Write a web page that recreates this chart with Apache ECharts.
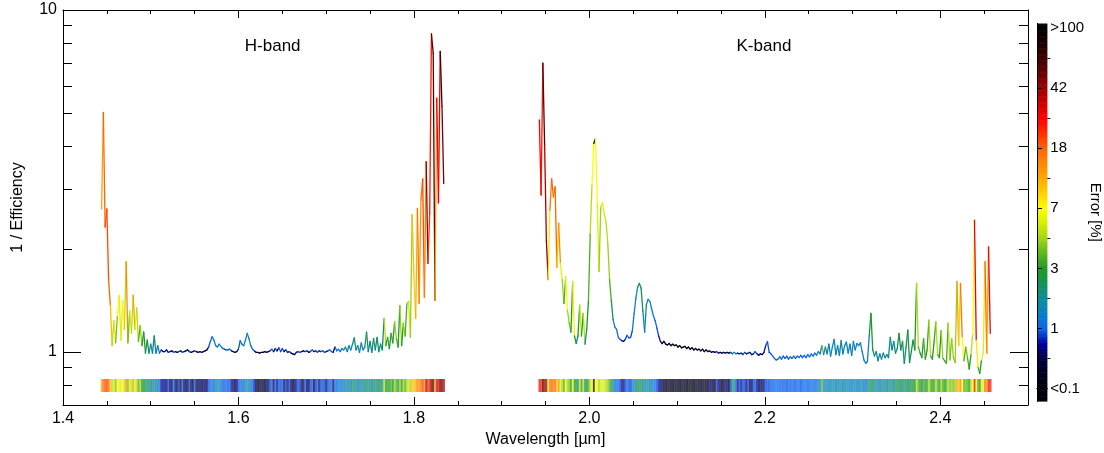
<!DOCTYPE html>
<html><head><meta charset="utf-8">
<script src="https://cdn.jsdelivr.net/npm/echarts@6/dist/echarts.min.js"></script>
<style>html,body{margin:0;padding:0;background:#fff}#c{width:1104px;height:453px}</style>
</head><body><div id="c"></div>
<script>
// ---- wavelength sampling (µm) ----
const H_START = 1.444, K_START = 1.943, STEP = 0.002;

// ---- H band: 1/efficiency and error [%] ----
const hEff = [
2.62,5.02,2.32,2.62,1.62,1.37,1.044,1.235,1.064,1.276,
1.466,1.084,1.416,1.164,1.838,1.064,1.316,1.134,1.466,1.164,
1.346,1.074,1.195,1.044,1.144,0.993,1.084,0.993,1.054,0.993,
1.114,0.993,1.044,0.993,1.014,1.003,1.003,1.014,0.998,1.003,
1.008,0.998,1.003,0.998,1.003,1.008,0.998,1.003,1.008,1.014,
1.003,0.998,1.003,1.008,1.003,0.998,1.003,0.998,1.003,1.008,
1.014,1.034,1.074,1.108,1.084,1.044,1.034,1.054,1.039,1.024,
1.019,1.014,1.014,1.019,1.008,1.003,0.998,1.003,1.019,1.079,
1.054,1.044,1.084,1.134,1.094,1.044,1.019,1.008,0.998,0.998,
0.993,0.998,0.998,1.003,0.998,1.003,1.008,1.019,1.003,1.024,
1.008,1.029,1.003,1.024,1.003,1.014,0.998,1.003,0.993,0.988,
0.983,0.998,1.003,0.998,1.003,1.008,1.003,1.008,0.998,1.003,
1.014,1.003,1.008,0.998,1.008,1.003,1.008,0.998,1.003,1.008,
1.014,1.003,0.998,1.034,1.008,1.019,1.003,1.024,1.014,1.034,
1.003,1.044,1.014,1.054,1.099,1.014,1.044,0.998,1.064,1.014,
1.034,1.144,1.003,1.074,0.998,1.094,1.014,1.104,1.003,1.054,
1.014,1.255,1.044,1.104,1.024,1.134,1.064,1.225,1.094,1.034,
1.366,1.044,1.215,1.114,1.386,1.406,1.104,2.52,1.658,1.255,
2.63,1.386,2.78,3.21,1.446,3.60,1.818,2.54,8.51,7.48,
1.416,5.52,2.73,7.57,5.22,3.11];
const hErr = [
12,18,20,20,18,10,5,6,4,7,
8,6,7,5,14,4,6,5,12,6,
5,3.5,4.5,3,3,2,3,1.5,2,1.2,
2.5,1.2,1.5,1.0,0.5,0.5,0.6,0.4,0.8,0.3,
0.5,1.0,0.3,0.4,0.8,0.3,0.9,0.3,0.5,0.3,
0.8,0.3,0.4,0.9,0.3,0.3,0.6,0.3,0.4,0.3,
0.5,0.9,1.0,1.1,1.2,1.3,1.4,1.6,1.2,1.0,
0.9,1.0,0.9,1.0,0.5,0.4,0.3,0.5,0.9,1.0,
1.1,1.2,1.4,1.7,1.5,1.2,1.0,0.6,0.3,0.3,
0.2,0.3,0.2,0.3,0.4,0.3,0.8,1.0,0.3,0.9,
0.4,1.0,0.8,0.9,0.3,0.8,0.5,0.8,0.3,0.3,
0.4,0.6,0.9,0.8,0.4,0.3,0.9,0.5,0.3,0.8,
0.9,0.3,0.8,0.9,0.4,0.9,0.9,0.8,0.3,0.9,
1.0,1.0,0.4,1.2,1.0,1.3,1.0,1.3,1.5,1.8,
1.2,1.8,1.4,1.9,2.2,1.5,1.8,1.2,1.9,1.5,
1.8,2.7,1.5,2.2,1.4,2.4,1.7,2.5,1.8,2.2,
2.0,5,3,3.2,2.6,3.5,3,4.5,3.5,2.8,
4.5,3,4.5,3.5,5,5.5,4.5,10,9,11,
16,13,17,20,15,45,22,25,55,60,
12,30,30,65,50,35];

// ---- K band: 1/efficiency and error [%] ----
const kEff = [
4.77,2.88,6.99,4.02,2.12,1.628,2.60,3.21,2.84,3.04,
1.768,2.38,1.818,1.628,1.386,1.658,1.326,1.215,1.144,1.608,
1.114,1.06,1.114,1.372,1.114,1.296,1.054,1.164,1.416,2.22,
3.08,4.07,4.21,2.72,1.718,2.66,2.73,2.54,2.40,2.08,
1.628,1.416,1.245,1.184,1.164,1.104,1.089,1.079,1.074,1.089,
1.119,1.099,1.104,1.154,1.296,1.436,1.547,1.587,1.537,1.316,
1.144,1.376,1.426,1.406,1.336,1.276,1.235,1.174,1.114,1.074,
1.059,1.074,1.054,1.049,1.059,1.044,1.054,1.044,1.049,1.034,
1.044,1.029,1.034,1.039,1.024,1.034,1.019,1.029,1.014,1.024,
1.014,1.019,1.008,1.019,1.003,1.014,1.003,1.008,0.998,1.003,
0.998,1.003,0.993,0.998,0.993,0.998,0.993,0.998,0.993,0.998,
0.988,0.998,0.988,0.993,0.988,0.993,0.983,0.998,0.988,0.993,
0.998,0.983,0.988,1.003,0.988,0.978,0.988,0.983,0.998,1.044,
1.072,0.998,0.988,0.973,0.958,0.948,0.953,0.968,0.953,0.973,
0.958,0.973,0.953,0.968,0.958,0.973,0.958,0.973,0.963,0.978,
0.963,0.978,0.963,0.983,0.968,0.988,0.973,0.993,0.978,1.003,
0.988,1.044,0.983,1.034,0.988,1.054,0.973,1.034,1.089,0.983,
1.044,0.978,1.079,0.988,1.044,1.069,0.993,1.054,0.978,1.074,
1.014,1.059,1.044,1.064,1.003,0.948,0.927,0.938,1.114,1.296,
1.014,0.973,1.003,0.943,0.988,0.953,0.993,0.963,0.983,0.963,
1.104,1.014,1.074,0.993,1.024,1.134,1.014,1.074,0.927,1.034,
1.159,0.932,1.003,1.084,1.014,1.588,1.034,0.993,0.963,1.094,
0.953,1.014,1.24,0.973,0.953,1.074,1.225,0.983,0.963,1.154,
0.958,0.943,0.926,1.215,0.948,1.094,0.963,0.932,1.608,1.044,
1.588,1.104,0.943,1.034,0.963,0.892,0.983,1.124,2.43,1.084,
0.902,0.866,0.948,0.993,1.838,0.993,2.03,1.134];
const kErr = [
28,25,60,40,45,8,16,18,16,18,
9,14,6,4.5,3.5,7,4.5,4,3,7.5,
3,1.8,3,5.5,3,5,1.8,2.8,3.5,5,
7,120,7,6,4.5,6,6,5.5,5,4.5,
3.5,2.5,1.6,1.2,1.1,1.0,0.8,0.6,0.5,0.8,
1.0,0.9,0.8,1.2,1.5,1.7,2.3,2.8,2.2,1.6,
1.5,1.6,1.7,1.5,1.3,1.2,1.0,0.9,0.6,0.4,
0.3,0.3,0.2,0.2,0.2,0.2,0.15,0.2,0.15,0.15,
0.2,0.15,0.12,0.2,0.15,0.12,0.2,0.15,0.12,0.15,
0.2,0.12,0.3,0.15,0.2,0.12,0.3,0.5,0.3,0.15,
0.3,0.8,0.5,0.3,0.2,0.3,0.5,0.3,0.2,0.8,
1.5,2.5,1.0,0.5,0.8,0.5,0.9,0.8,0.4,0.8,
0.5,0.3,0.8,0.9,0.6,0.3,0.4,0.3,0.6,0.9,
0.9,0.8,1.0,1.0,1.0,1.0,1.1,1.0,1.0,0.9,
1.0,0.9,1.0,0.9,1.0,1.0,0.9,1.0,1.0,0.9,
1.0,1.0,1.0,1.0,1.0,1.1,1.0,1.2,1.1,1.3,
1.2,4,1.5,1.4,1.3,1.5,1.4,1.5,1.6,1.4,
1.5,1.4,1.6,1.4,1.5,1.6,1.3,1.5,1.3,1.5,
1.4,1.5,1.4,1.5,1.3,1.2,1.3,1.3,2.5,2.8,
1.8,1.7,1.6,1.7,1.5,1.6,1.7,1.6,1.7,1.8,
1.8,1.8,1.9,2.0,2.2,2.8,2.0,2.2,1.7,2.5,
2.8,2.0,2.3,2.6,3,5,3.5,3,2.8,3.5,
3,3.2,5,3.5,3,3.2,5,3.5,3,4.5,
3.5,3,3.5,5,4,4.5,4,4.5,12,9,
16,7,3.5,4,3.5,3,5,7,30,8,
3.5,3,6,6,18,12,28,25];

// ---- colour bar & axes ----
const errTicks = [0.1, 1, 3, 7, 18, 42, 100];
const errTickLabels = ['<0.1', '1', '3', '7', '18', '42', '>100'];
const xMajorTicks = [1.4, 1.6, 1.8, 2.0, 2.2, 2.4];
const xMinorTicks = [1.45,1.5,1.55,1.65,1.7,1.75,1.85,1.9,1.95,2.05,2.1,2.15,2.25,2.3,2.35,2.45];
const yMajorTicks = [1, 10];
const yMinorTicks = [0.8, 0.9, 2, 3, 4, 5, 6, 7, 8, 9];
const bandNames = ['H-band', 'K-band'];
const bandLabelX = [1.639, 2.199];
const bandLabelY = 7.81;
const palette = ['#00000e','#000020','#000040','#0000a0','#0a66ee','#0a80c8','#0f8c98','#14925a',
  '#1d9a22','#5ab41e','#a0d414','#d4ec08','#fcff00','#ffd200','#ffa800','#ff8800','#ff6400',
  '#ff3000','#ff0000','#d00000','#a00000','#6a0000','#400000','#1c0000','#000000'];
const STRIP_LO = 0.764, STRIP_HI = 0.834;
const CB_MIN = -0.21, CB_MAX = 6.08;
const FONT = "'Liberation Sans', Arial, Helvetica, sans-serif";

function errIndex(e) {
  if (e <= errTicks[0]) return 0;
  for (let k = 0; k < errTicks.length - 1; k++) {
    if (e <= errTicks[k + 1]) return k + Math.log(e / errTicks[k]) / Math.log(errTicks[k + 1] / errTicks[k]);
  }
  return errTicks.length - 1;
}

const lineData = [], stripData = [];
function addBand(start, eff, err) {
  for (let i = 0; i < eff.length; i++) {
    const x = start + i * STEP;
    const c = errIndex(err[i]);
    if (i < eff.length - 1) lineData.push([x, eff[i], start + (i + 1) * STEP, eff[i + 1], c]);
    stripData.push([x - STEP / 2, STRIP_LO, x + STEP / 2, STRIP_HI, c]);
  }
}
addBand(H_START, hEff, hErr);
addBand(K_START, kEff, kErr);

const cbData = [];
for (let v = CB_MIN; v < CB_MAX - 1e-9; v += 0.02) {
  const top = Math.min(v + 0.02, CB_MAX);
  cbData.push([0, v, 1, top, Math.max(0, Math.min(6, (v + top) / 2))]);
}

function segItem(params, api) {
  const p1 = api.coord([api.value(0), api.value(1)]);
  const p2 = api.coord([api.value(2), api.value(3)]);
  return { type: 'line', shape: { x1: p1[0], y1: p1[1], x2: p2[0], y2: p2[1] },
    style: { stroke: api.visual('color'), lineWidth: 1.3, lineCap: 'round' } };
}
function rectItemFactory(opacity, pad) {
  return function (params, api) {
    const p0 = api.coord([api.value(0), api.value(1)]);
    const p1 = api.coord([api.value(2), api.value(3)]);
    return { type: 'rect',
      shape: { x: Math.min(p0[0], p1[0]), y: Math.min(p0[1], p1[1]),
               width: Math.abs(p1[0] - p0[0]) + pad[0], height: Math.abs(p1[1] - p0[1]) + pad[1] },
      style: { fill: api.visual('color'), opacity: opacity } };
  };
}

const black = '#000';
const lineOn = { show: true, lineStyle: { color: black, width: 1 } };
const noLine = { show: false };
const noLabel = { show: false };
const noSplit = { show: false };
function tick(values, len, inside) {
  return { show: true, inside: inside, length: len, customValues: values, lineStyle: { color: black, width: 1 } };
}

const cbVals = [0, 1, 2, 3, 4, 5, 6];
const cbMinor = [0.5, 1.5, 2.5, 3.5, 4.5, 5.5];

const option = {
  animation: false,
  textStyle: { fontFamily: FONT, color: black },
  grid: [
    { left: 63, right: 76, top: 10, bottom: 48 },
    { left: 1037, width: 22, top: 23.5, height: 377.5 }
  ],
  visualMap: {
    type: 'continuous', show: false, min: 0, max: 6, dimension: 4,
    seriesIndex: [0, 1, 2], inRange: { color: palette }
  },
  xAxis: [
    { gridIndex: 0, type: 'value', min: 1.4, max: 2.5, position: 'bottom', axisLine: lineOn,
      axisTick: tick(xMajorTicks, 8, true), splitLine: noSplit,
      axisLabel: { customValues: xMajorTicks, formatter: v => v.toFixed(1), fontSize: 16, color: black, margin: 6, fontFamily: FONT },
      name: 'Wavelength [µm]', nameLocation: 'middle', nameGap: 27,
      nameTextStyle: { fontSize: 16, color: black, fontFamily: FONT } },
    { gridIndex: 0, type: 'value', min: 1.4, max: 2.5, position: 'bottom', axisLine: noLine,
      axisTick: tick(xMinorTicks, 4, true), axisLabel: noLabel, splitLine: noSplit },
    { gridIndex: 0, type: 'value', min: 1.4, max: 2.5, position: 'top', axisLine: lineOn,
      axisTick: tick(xMajorTicks, 8, true), axisLabel: noLabel, splitLine: noSplit },
    { gridIndex: 0, type: 'value', min: 1.4, max: 2.5, position: 'top', axisLine: noLine,
      axisTick: tick(xMinorTicks, 4, true), axisLabel: noLabel, splitLine: noSplit },
    { gridIndex: 1, type: 'value', min: 0, max: 1, position: 'bottom', axisLine: lineOn,
      axisTick: { show: false }, axisLabel: noLabel, splitLine: noSplit, z: 10 },
    { gridIndex: 1, type: 'value', min: 0, max: 1, position: 'top', axisLine: lineOn,
      axisTick: { show: false }, axisLabel: noLabel, splitLine: noSplit, z: 10 }
  ],
  yAxis: [
    { gridIndex: 0, type: 'log', logBase: 10, min: 0.7, max: 10, position: 'left', axisLine: lineOn,
      axisTick: tick(yMajorTicks, 18, true), splitLine: noSplit, minorTick: { show: false },
      axisLabel: { customValues: yMajorTicks, formatter: v => String(Math.round(v)), fontSize: 16, color: black, margin: 6, fontFamily: FONT },
      name: '1 / Efficiency', nameLocation: 'middle', nameGap: 37, nameRotate: 90,
      nameTextStyle: { fontSize: 16, color: black, fontFamily: FONT } },
    { gridIndex: 0, type: 'log', logBase: 10, min: 0.7, max: 10, position: 'left', axisLine: noLine,
      axisTick: tick(yMinorTicks, 9, true), axisLabel: noLabel, splitLine: noSplit },
    { gridIndex: 0, type: 'log', logBase: 10, min: 0.7, max: 10, position: 'right', axisLine: lineOn,
      axisTick: tick(yMajorTicks, 18, true), axisLabel: noLabel, splitLine: noSplit },
    { gridIndex: 0, type: 'log', logBase: 10, min: 0.7, max: 10, position: 'right', axisLine: noLine,
      axisTick: tick(yMinorTicks, 9, true), axisLabel: noLabel, splitLine: noSplit },
    { gridIndex: 1, type: 'value', min: CB_MIN, max: CB_MAX, position: 'left', axisLine: lineOn,
      axisTick: { show: false }, axisLabel: noLabel, splitLine: noSplit, z: 10 },
    { gridIndex: 1, type: 'value', min: CB_MIN, max: CB_MAX, position: 'right', axisLine: lineOn,
      axisTick: tick(cbVals, 5, false), splitLine: noSplit, z: 10,
      axisLabel: { customValues: cbVals, formatter: v => errTickLabels[Math.round(v)], fontSize: 15, color: black, margin: 3, fontFamily: FONT },
      name: 'Error [%]', nameLocation: 'middle', nameGap: 25, nameRotate: -90,
      nameTextStyle: { fontSize: 15, color: black, fontFamily: FONT } },
    { gridIndex: 1, type: 'value', min: CB_MIN, max: CB_MAX, position: 'right', axisLine: noLine,
      axisTick: tick(cbMinor, 3, false), axisLabel: noLabel, splitLine: noSplit, z: 10 }
  ],
  series: [
    { type: 'custom', name: 'efficiency', xAxisIndex: 0, yAxisIndex: 0, data: lineData,
      renderItem: segItem, z: 3, silent: true },
    { type: 'custom', name: 'errorStrip', xAxisIndex: 0, yAxisIndex: 0, data: stripData,
      renderItem: rectItemFactory(0.72, [0.4, 0]), z: 2, silent: true },
    { type: 'custom', name: 'colorbar', xAxisIndex: 4, yAxisIndex: 4, data: cbData,
      renderItem: rectItemFactory(1, [0, 0.6]), z: 2, silent: true },
    { type: 'scatter', name: 'bands', xAxisIndex: 0, yAxisIndex: 0, symbolSize: 1, silent: true,
      itemStyle: { opacity: 0 },
      data: bandNames.map((n, i) => ({ value: [bandLabelX[i], bandLabelY], name: n })),
      label: { show: true, position: 'inside', formatter: p => p.name, fontSize: 17,
               color: '#000', opacity: 1, textBorderWidth: 0, fontFamily: FONT } }
  ]
};

const chart = echarts.init(document.getElementById('c'), null, { renderer: 'canvas' });
chart.setOption(option);
</script>
</body></html>
